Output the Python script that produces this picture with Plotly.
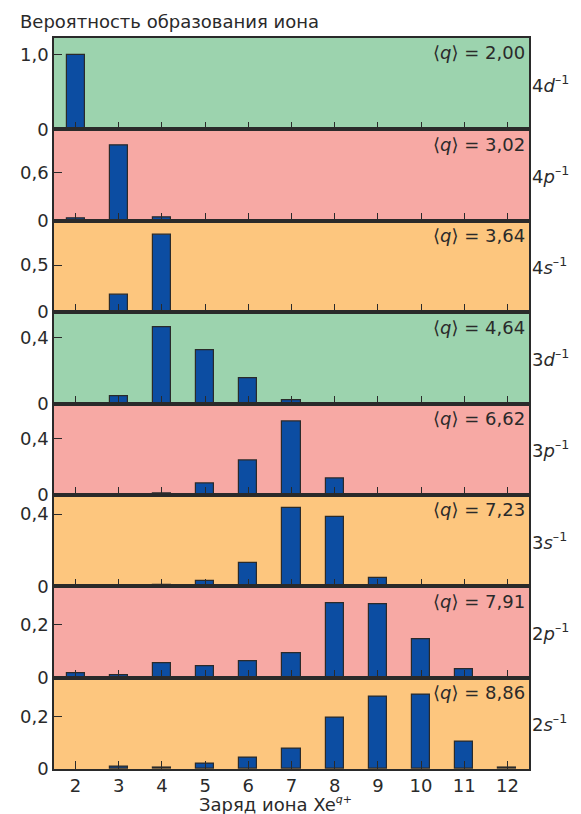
import plotly.graph_objects as go
from plotly.subplots import make_subplots

charges = [2, 3, 4, 5, 6, 7, 8, 9, 10, 11, 12]
shells = ["4d", "4p", "4s", "3d", "3p", "3s", "2p", "2s"]
mean_q = ["2,00", "3,02", "3,64", "4,64", "6,62", "7,23", "7,91", "8,86"]
p_4d = [0.99, None, None, None, None, None, None, None, None, None, None]
p_4p = [0.025, 0.93, 0.04, None, None, None, None, None, None, None, None]
p_4s = [None, 0.18, 0.82, None, None, None, None, None, None, None, None]
p_3d = [None, 0.048, 0.467, 0.324, 0.152, 0.02, None, None, None, None, None]
p_3p = [None, None, 0.007, 0.083, 0.244, 0.52, 0.116, None, None, None, None]
p_3s = [None, 0.004, 0.008, 0.028, 0.131, 0.436, 0.385, 0.048, None, None, None]
p_2p = [0.015, 0.008, 0.054, 0.042, 0.064, 0.092, 0.282, 0.279, 0.144, 0.031, None]
p_2s = [None, 0.010, 0.006, 0.019, 0.042, 0.079, 0.196, 0.276, 0.282, 0.104, 0.006]
series = [p_4d, p_4p, p_4s, p_3d, p_3p, p_3s, p_2p, p_2s]
y_tick_val = [1.0, 0.6, 0.5, 0.4, 0.4, 0.4, 0.2, 0.2]
y_tick_text = ["1,0", "0,6", "0,5", "0,4", "0,4", "0,4", "0,2", "0,2"]
y_top = [1.22, 1.13, 0.97, 0.557, 0.646, 0.506, 0.347, 0.347]

GREEN = "#9cd3ae"
PINK = "#f7a9a4"
ORANGE = "#fdc67e"
bg = [GREEN, PINK, ORANGE, GREEN, PINK, ORANGE, PINK, ORANGE]

FONT = "DejaVu Sans, sans-serif"
INK = "#2a2a2a"
FS = 18

n = len(shells)
fig = make_subplots(rows=n, cols=1, shared_xaxes=True, vertical_spacing=0)

for i in range(n):
    r = i + 1
    fig.add_trace(go.Bar(x=charges, y=series[i], width=0.42,
                         marker=dict(color="#0c4da2", line=dict(color=INK, width=1.2)),
                         showlegend=False), row=r, col=1)
    xa = "x" if r == 1 else f"x{r}"
    ya = "y" if r == 1 else f"y{r}"
    fig.add_shape(type="rect", xref=f"{xa} domain", yref=f"{ya} domain",
                  x0=0, x1=1, y0=0, y1=1, fillcolor=bg[i], line=dict(width=0),
                  layer="below")
    fig.update_yaxes(range=[0, y_top[i]], tickvals=[0, y_tick_val[i]],
                     ticktext=["0", y_tick_text[i]], ticks="inside", ticklen=8,
                     tickwidth=1.3, tickcolor=INK, showline=True, linecolor=INK,
                     linewidth=1.5, mirror=True, showgrid=False, zeroline=False,
                     tickfont=dict(family=FONT, size=FS, color=INK),
                     row=r, col=1)
    fig.update_xaxes(range=[1.5, 12.5], tickvals=charges, ticks="inside", ticklen=8,
                     tickwidth=1.3, tickcolor=INK, showline=True, linecolor=INK,
                     linewidth=1.5, mirror=True, showgrid=False, zeroline=False,
                     tickfont=dict(family=FONT, size=FS, color=INK),
                     row=r, col=1)
    fig.add_annotation(xref=f"{xa} domain", yref=f"{ya} domain", x=0.996,
                       y=1 - 15 / 91.4, xanchor="right", yanchor="middle",
                       text=f"⟨<i>q</i>⟩ = {mean_q[i]}", showarrow=False,
                       font=dict(family=FONT, size=FS, color=INK))
    fig.add_annotation(xref=f"{xa} domain", yref=f"{ya} domain", x=1, xshift=1,
                       y=0.5, xanchor="left", yanchor="middle",
                       text=f"{shells[i][0]}<i>{shells[i][1]}</i><sup>–1</sup>",
                       showarrow=False, font=dict(family=FONT, size=FS, color=INK))

fig.add_annotation(xref="paper", yref="paper", x=(14 - 50) / 479, y=1 + (38 - 21.5) / 731,
                   xanchor="left", yanchor="middle", showarrow=False,
                   text="Вероятность образования иона",
                   font=dict(family=FONT, size=FS, color=INK))
fig.add_annotation(xref="paper", yref="paper", x=(273 - 50) / 479, y=-(803.5 - 769) / 731,
                   xanchor="center", yanchor="middle", showarrow=False,
                   text="Заряд иона Xe<sup><span style='font-size:11px'><i>q</i>+</span></sup>",
                   font=dict(family=FONT, size=FS, color=INK))

fig.update_layout(width=573, height=806, margin=dict(l=42, r=52, t=30, b=45),
                  plot_bgcolor="white", paper_bgcolor="white", bargap=0,
                  font=dict(family=FONT, color=INK))

fig.write_html("out.html")
